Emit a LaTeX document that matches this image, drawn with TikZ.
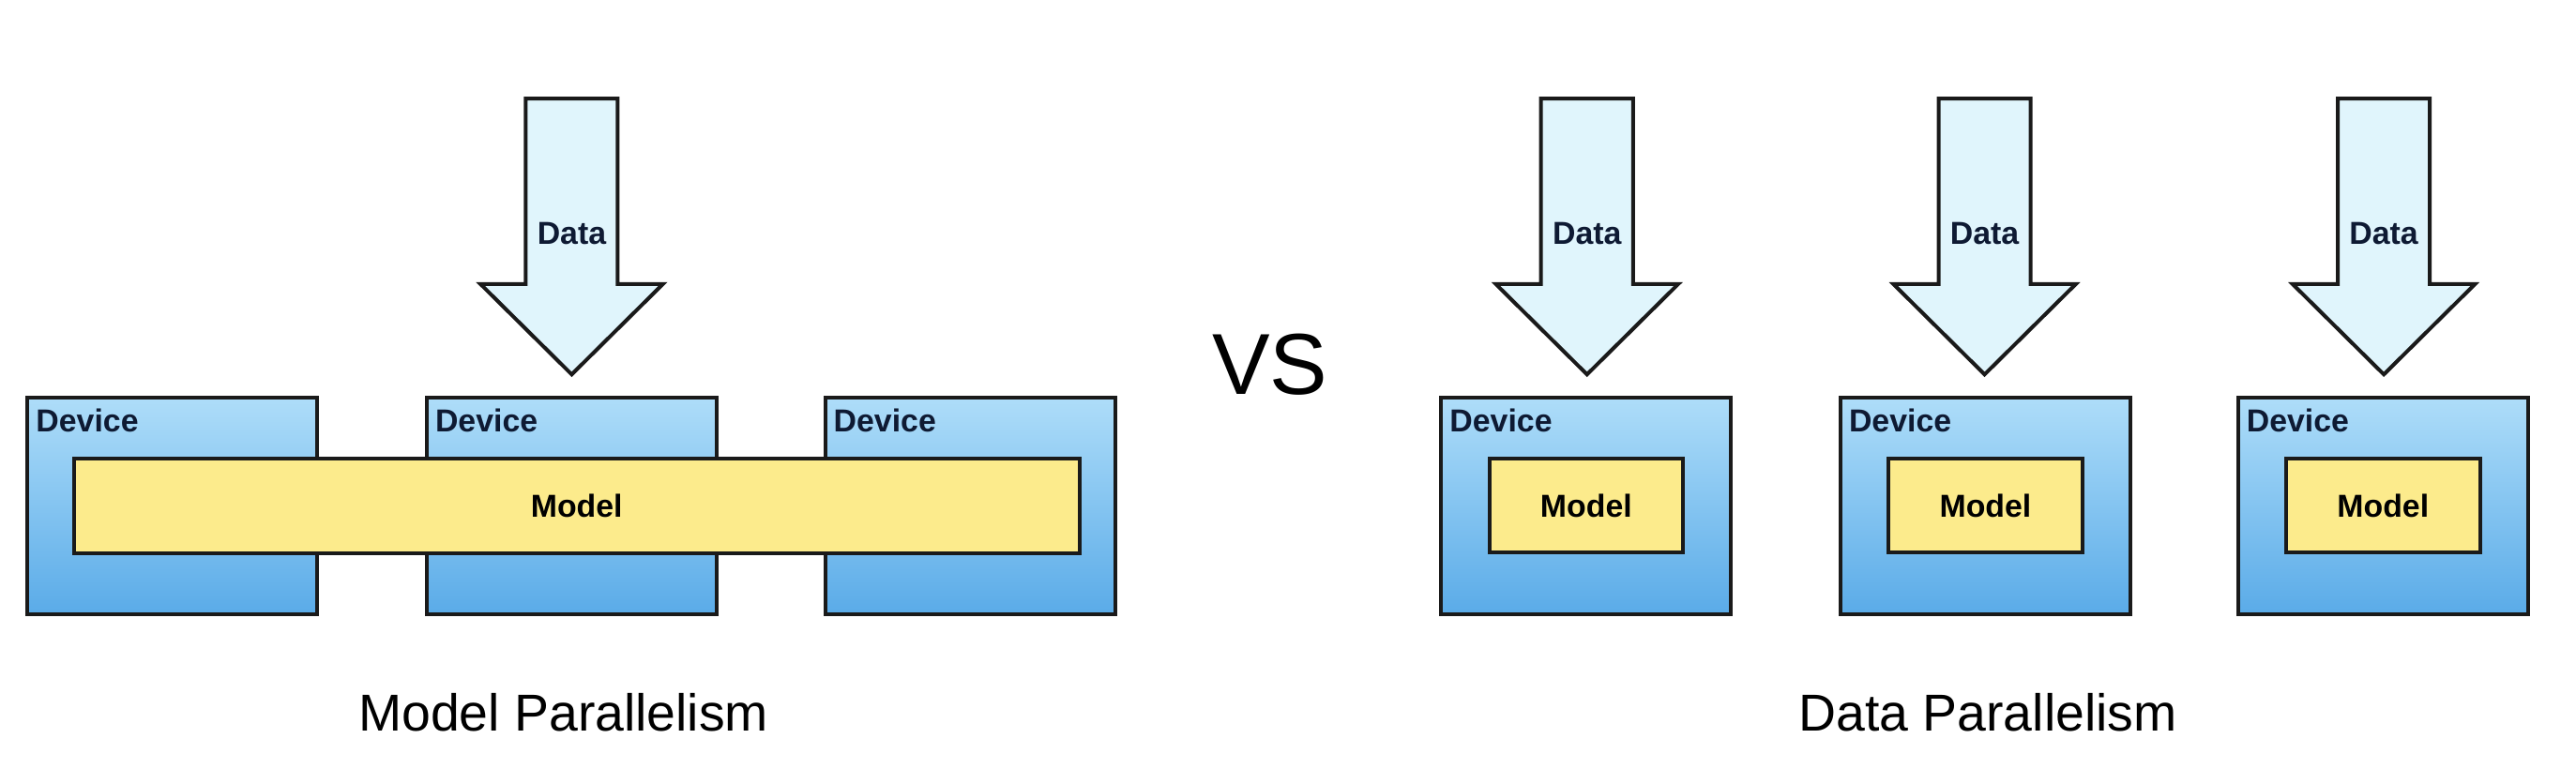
\documentclass[tikz,border=0pt]{standalone}
\usepackage{fontspec}
\setmainfont{Liberation Sans}
\definecolor{devtop}{HTML}{AEDDF9}
\definecolor{devbot}{HTML}{5AABE8}
\definecolor{modelfill}{HTML}{FCEB8C}
\definecolor{datafill}{HTML}{E0F5FC}
\definecolor{edge}{HTML}{1A1A1A}
\definecolor{devtext}{HTML}{0E1A33}
\tikzset{
  device/.style={draw=edge, line width=1.3pt, top color=devtop,
                 bottom color=devbot, minimum width=3.53cm,
                 minimum height=2.64cm, inner sep=0pt},
  model/.style={draw=edge, line width=1.3pt, fill=modelfill,
                inner sep=0pt, font=\bfseries\fontsize{11}{13}\selectfont},
  devlabel/.style={anchor=north west, inner sep=0pt, text=devtext,
                   font=\bfseries\fontsize{11}{13}\selectfont},
  arrowbody/.style={draw=edge, line width=1.3pt, fill=datafill,
                    line join=miter},
  datalabel/.style={inner sep=0pt, text=devtext,
                    font=\bfseries\fontsize{11}{13}\selectfont},
  caption/.style={font=\fontsize{18}{22}\selectfont}
}
\begin{document}
\begin{tikzpicture}
    \useasboundingbox (0,0) rectangle (31.36,9.54);
    % data arrows
    \foreach \i/\x in {1/6.96, 2/19.32, 3/24.16, 4/29.02} {
        \draw[arrowbody] (\x-0.56,8.34) -- (\x+0.56,8.34)
              -- (\x+0.56,6.08) -- (\x+1.11,6.08) -- (\x,4.98)
              -- (\x-1.11,6.08) -- (\x-0.56,6.08) -- cycle;
        \node[datalabel] (data\i) at (\x,6.70) {Data};
    }
    % model parallelism
    \foreach \i/\x in {1/2.10, 2/6.96, 3/11.81} {
        \node[device] (md\i) at (\x,3.38) {};
        \node[devlabel] (mdl\i) at ([shift={(0.12,-0.16)}]md\i.north west)
              {Device};
    }
    \node[model, minimum width=12.24cm,
          minimum height=1.16cm] (mbar) at (7.02,3.38) {Model};
    % data parallelism
    \foreach \i/\x in {1/19.31, 2/24.17, 3/29.01} {
        \node[device] (dd\i) at (\x,3.38) {};
        \node[devlabel] (ddl\i) at ([shift={(0.12,-0.16)}]dd\i.north west)
              {Device};
        \node[model, minimum width=2.36cm,
              minimum height=1.14cm] (dm\i) at (\x,3.38) {Model};
    }
    \node[font=\fontsize{30}{36}\selectfont] (vs) at (15.46,5.10) {VS};
    \node[caption] (mcap) at (6.86,0.86) {Model Parallelism};
    \node[caption] (dcap) at (24.20,0.86) {Data Parallelism};
\end{tikzpicture}
\end{document}
